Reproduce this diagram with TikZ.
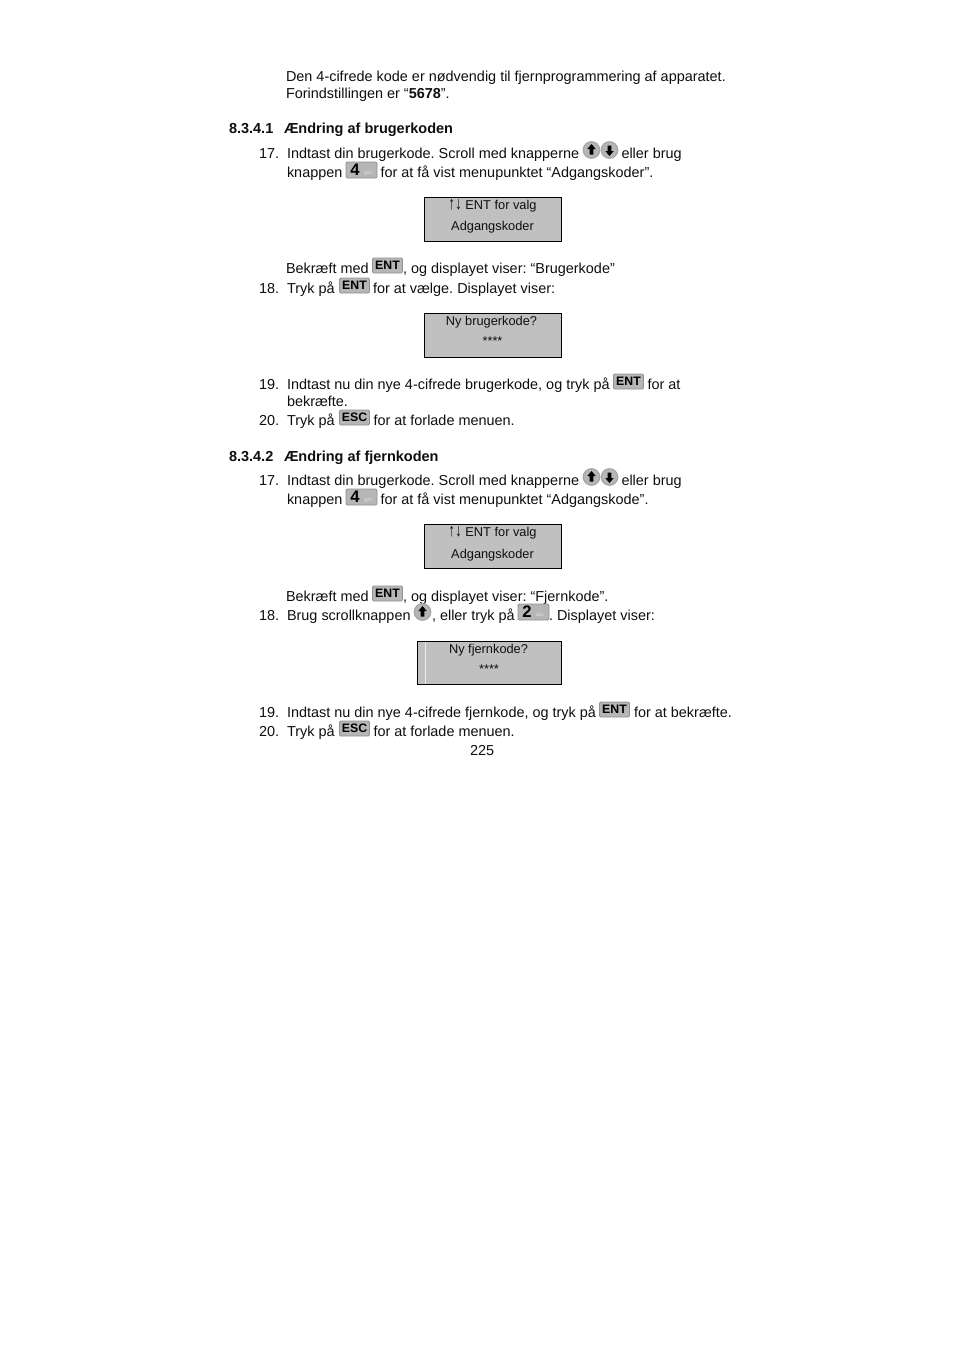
\documentclass[tikz,border=0pt]{standalone}
\usepackage{fontspec}
\setmainfont{Liberation Sans}
\frenchspacing
\definecolor{keygray}{RGB}{182,182,182}
\definecolor{keyedge}{RGB}{145,145,145}
\definecolor{lcdgray}{RGB}{192,192,192}
\definecolor{txt}{RGB}{15,15,15}
\newcommand{\tallarrows}{\raisebox{-0.6pt}{\scalebox{1.05}[1.4]{↑↓}}}
\tikzset{
  body/.style={anchor=base west,inner sep=0pt,outer sep=0pt,text=txt,font=\fontsize{10.83pt}{13pt}\selectfont},
  lcdline/.style={anchor=base,inner sep=0pt,text=txt,font=\fontsize{9.6pt}{11pt}\selectfont},
  lcdstar/.style={anchor=base,inner sep=0pt,text=txt,font=\fontsize{9.6pt}{9pt}\selectfont},
  head/.style={body,font=\bfseries\fontsize{10.87pt}{13pt}\selectfont},
  lcd/.style={draw=black,line width=0.75pt,fill=lcdgray},
  keybox/.style={draw=keyedge,fill=keygray,line width=0.7pt,rounded corners=1pt},
  keytxt/.style={inner sep=0pt,text=black,font=\bfseries\fontsize{9.2pt}{9pt}\selectfont},
  keysmall/.style={inner sep=0pt,text=white!85!black,font=\bfseries\fontsize{3.6pt}{4pt}\selectfont},
  keynum/.style={inner sep=0pt,text=black,font=\bfseries\fontsize{12.5pt}{12pt}\selectfont},
  roundkey/.style={circle,draw=gray!70,fill=keygray,line width=0.9pt,minimum size=12.4pt,inner sep=0pt}
}
\newcommand{\txtkey}[3]{% x, y(top), label
  \path[keybox] (#1,#2) rectangle ++(30,15);
  \node[keytxt] at (#1+15,#2+7.4) {#3};}
\newcommand{\numkey}[4]{% x, y, digit, small
  \path[keybox] (#1,#2) rectangle ++(31,16);
  \node[keynum] at (#1+9,#2+7.5) {#3};
  \node[keysmall] at (#1+22,#2+11) {#4};}
\newcommand{\upkey}[2]{\node[roundkey] at (#1,#2) {}; \fill[black] (#1,#2-6) -- ++(4.2,5) -- ++(-2.4,0) -- ++(0,5.5) -- ++(-3.6,0) -- ++(0,-5.5) -- ++(-2.4,0) -- cycle;}
\newcommand{\downkey}[2]{\node[roundkey] at (#1,#2) {}; \fill[black] (#1,#2+6) -- ++(4.2,-5) -- ++(-2.4,0) -- ++(0,-5.5) -- ++(-3.6,0) -- ++(0,5.5) -- ++(-2.4,0) -- cycle;}
\begin{document}
\begin{tikzpicture}[x=0.75pt,y=-0.75pt]
\useasboundingbox (0,0) rectangle (954,1350);
\fill[white] (0,0) rectangle (954,1350);
% intro
\node[body] (t1) at (286,81) {Den 4-cifrede kode er nødvendig til fjernprogrammering af apparatet.};
\node[body] (t2) at (286,98) {Forindstillingen er “\textbf{5678}”.};
% 8.3.4.1
\node[head] (h1n) at (229,133) {8.3.4.1};
\node[head] (h1) at (284,133) {Ændring af brugerkoden};
\node[body] (n1) at (259,158) {17.};
\node[body] (a1) at (287,158) {Indtast din brugerkode. Scroll med knapperne};
\upkey{591.5}{150}\downkey{609.5}{150}
\node[body] (a1b) at (621.5,158) {eller brug};
\node[body] (a2) at (287,177) {knappen};
\numkey{346}{162}{4}{ghi}
\node[body] (a2b) at (380.5,177) {for at få vist menupunktet “Adgangskoder”.};
\draw[lcd] (424.5,197.5) rectangle (561.5,241.5);
\node[lcdline] (l1) at (492.5,209) {\tallarrows{} ENT for valg};
\node[lcdline] (l2) at (492.5,230) {Adgangskoder};
\node[body] (b1) at (286,273) {Bekræft med};
\txtkey{372.5}{258}{ENT}
\node[body] (b1b) at (403,273) {, og displayet viser: “Brugerkode”};
\node[body] (n2) at (259,293) {18.};
\node[body] (c1) at (287,293) {Tryk på};
\txtkey{339.5}{278}{ENT}
\node[body] (c1b) at (373,293) {for at vælge. Displayet viser:};
\draw[lcd] (424.5,313.5) rectangle (561.5,357.5);
\node[lcdline] (l3) at (491.5,325) {Ny brugerkode?};
\node[lcdstar] (l4) at (492.5,345) {****};
\node[body] (n3) at (259,389) {19.};
\node[body] (d1) at (287,389) {Indtast nu din nye 4-cifrede brugerkode, og tryk på};
\txtkey{613.5}{374}{ENT}
\node[body] (d1b) at (647.5,389) {for at};
\node[body] (d2) at (287,406) {bekræfte.};
\node[body] (n4) at (259,425) {20.};
\node[body] (e1) at (287,425) {Tryk på};
\txtkey{339.5}{410}{ESC}
\node[body] (e1b) at (373.5,425) {for at forlade menuen.};
% 8.3.4.2
\node[head] (h2n) at (229,461) {8.3.4.2};
\node[head] (h2) at (284,461) {Ændring af fjernkoden};
\node[body] (n5) at (259,485) {17.};
\node[body] (f1) at (287,485) {Indtast din brugerkode. Scroll med knapperne};
\upkey{591.5}{477}\downkey{609.5}{477}
\node[body] (f1b) at (621.5,485) {eller brug};
\node[body] (f2) at (287,504) {knappen};
\numkey{346}{489}{4}{ghi}
\node[body] (f2b) at (380.5,504) {for at få vist menupunktet “Adgangskode”.};
\draw[lcd] (424.5,524.5) rectangle (561.5,568.5);
\node[lcdline] (l5) at (492.5,536) {\tallarrows{} ENT for valg};
\node[lcdline] (l6) at (492.5,558) {Adgangskoder};
\node[body] (g1) at (286,601) {Bekræft med};
\txtkey{372.5}{586}{ENT}
\node[body] (g1b) at (403,601) {, og displayet viser: “Fjernkode”.};
\node[body] (n6) at (259,620) {18.};
\node[body] (i1) at (287,620) {Brug scrollknappen};
\upkey{422.5}{612}
\node[body] (i1b) at (432,620) {, eller tryk på};
\numkey{518}{604}{2}{abc}
\node[body] (i1c) at (549,620) {. Displayet viser:};
\draw[lcd] (417.5,641.5) rectangle (561.5,684.5);
\draw[white!85!gray,line width=0.6pt] (425.5,642) -- (425.5,684);
\node[lcdline] (l7) at (488.5,653) {Ny fjernkode?};
\node[lcdstar] (l8) at (489,673) {****};
\node[body] (n7) at (259,717) {19.};
\node[body] (j1) at (287,717) {Indtast nu din nye 4-cifrede fjernkode, og tryk på};
\txtkey{599.5}{702}{ENT}
\node[body] (j1b) at (634,717) {for at bekræfte.};
\node[body] (n8) at (259,736) {20.};
\node[body] (k1) at (287,736) {Tryk på};
\txtkey{339.5}{721}{ESC}
\node[body] (k1b) at (373.5,736) {for at forlade menuen.};
\node[body] (pg) at (470,755) {225};
\end{tikzpicture}
\end{document}
